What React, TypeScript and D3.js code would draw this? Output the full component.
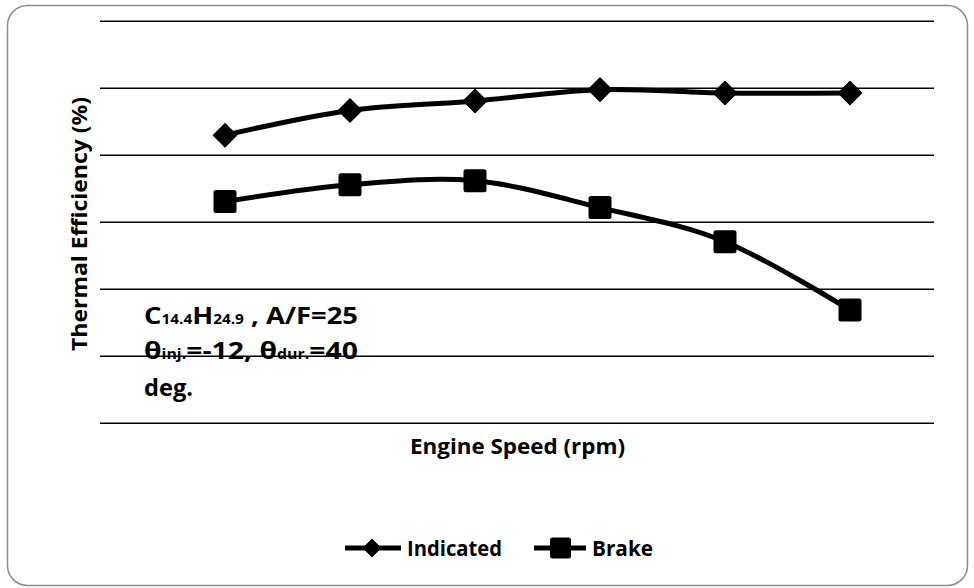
import React from "react";
import * as d3 from "d3";

const categories = ["1", "2", "3", "4", "5", "6"];
const indicated = [43.0, 46.7, 48.1, 49.8, 49.3, 49.3];
const brake = [33.1, 35.6, 36.2, 32.2, 27.1, 16.9];
const yTicks = [0, 10, 20, 30, 40, 50, 60];

const W = 974;
const H = 588;
const FONT = "'Open Sans', 'Noto Sans', sans-serif";

export default function App() {
  const x = d3.scaleLinear().domain([-1, 5.672]).range([100, 934]);
  const y = d3.scaleLinear().domain([0, 60]).range([423.3, 21.3]);

  const line = d3
    .line<number>()
    .x((_, i) => x(i))
    .y((d) => y(d))
    .curve(d3.curveCatmullRom.alpha(0));

  const diamond = (cx: number, cy: number, r: number) =>
    `M${cx},${cy - r}L${cx + r},${cy}L${cx},${cy + r}L${cx - r},${cy}Z`;

  return (
    <svg
      width={W}
      height={H}
      style={{ position: "absolute", left: 0, top: 0 }}
      fontFamily={FONT}
    >
      <rect x={0} y={0} width={W} height={H} fill="#fff" />
      <rect
        x={7.5}
        y={5.5}
        width={960}
        height={580}
        rx={20}
        ry={20}
        fill="#fff"
        stroke="#8c8c8c"
        strokeWidth={1.5}
      />
      {yTicks.map((t) => (
        <line
          key={t}
          x1={100}
          x2={934}
          y1={y(t)}
          y2={y(t)}
          stroke="#000"
          strokeWidth={1.5}
        />
      ))}
      <path d={line(indicated) || ""} fill="none" stroke="#000" strokeWidth={5} />
      <path d={line(brake) || ""} fill="none" stroke="#000" strokeWidth={5} />
      {indicated.map((v, i) => (
        <path
          key={"i" + categories[i]}
          d={diamond(x(i), y(v), 11.5)}
          fill="#000"
          stroke="#000"
          strokeWidth={1.5}
          strokeLinejoin="round"
        />
      ))}
      {brake.map((v, i) => (
        <rect
          key={"b" + categories[i]}
          x={x(i) - 11.5}
          y={y(v) - 11.5}
          width={23}
          height={23}
          rx={2.5}
          fill="#000"
        />
      ))}
      <text
        transform="translate(87,224) rotate(-90)"
        textAnchor="middle"
        fontWeight="bold"
        fontSize={22}
        textLength={254}
        lengthAdjust="spacingAndGlyphs"
      >
        Thermal Efficiency (%)
      </text>
      <text
        x={410}
        y={454}
        fontWeight="bold"
        fontSize={21}
        textLength={215}
        lengthAdjust="spacingAndGlyphs"
      >
        Engine Speed (rpm)
      </text>
      <g fontWeight="bold" fontSize={24}>
        <text x={144} y={323.5} textLength={214} lengthAdjust="spacingAndGlyphs">
          C<tspan fontSize={13.5}>14.4</tspan>H<tspan fontSize={13.5}>24.9</tspan> ,  A/F=25
        </text>
        <text x={144} y={358.5} textLength={214} lengthAdjust="spacingAndGlyphs">
          θ<tspan fontSize={13.5}>inj.</tspan>=-12, θ<tspan fontSize={13.5}>dur.</tspan>=40
        </text>
        <text x={144} y={396} textLength={49} lengthAdjust="spacingAndGlyphs">
          deg.
        </text>
      </g>
      <g>
        <line x1={345} x2={401} y1={548} y2={548} stroke="#000" strokeWidth={5} />
        <path d={diamond(372, 548, 9.5)} fill="#000" />
        <text
          x={407}
          y={556}
          fontWeight="bold"
          fontSize={21}
          textLength={95}
          lengthAdjust="spacingAndGlyphs"
        >
          Indicated
        </text>
        <line x1={534} x2={586} y1={548} y2={548} stroke="#000" strokeWidth={5} />
        <rect x={550} y={537.5} width={21} height={21} rx={2.5} fill="#000" />
        <text
          x={592}
          y={556}
          fontWeight="bold"
          fontSize={21}
          textLength={61}
          lengthAdjust="spacingAndGlyphs"
        >
          Brake
        </text>
      </g>
    </svg>
  );
}
